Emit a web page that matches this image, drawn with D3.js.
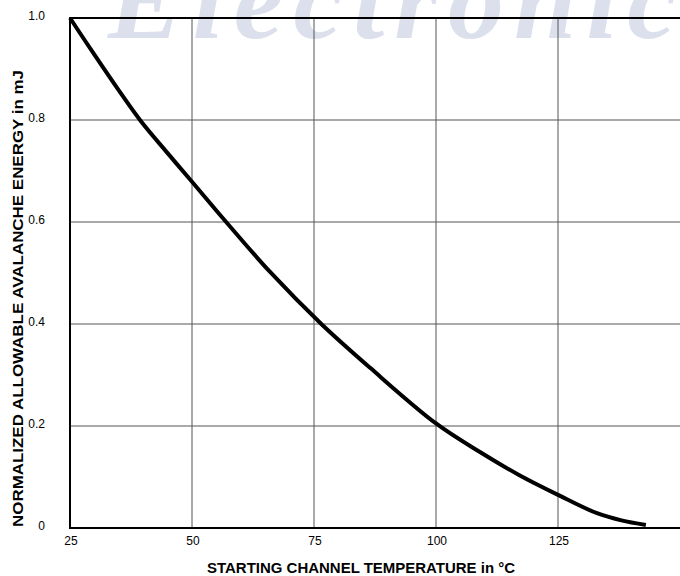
<!DOCTYPE html>
<html><head><meta charset="utf-8">
<script src="https://cdn.jsdelivr.net/npm/d3@7/dist/d3.min.js"></script>
<style>body{margin:0;background:#fff}svg{display:block}</style>
</head><body>
<script>
const temps  = [25, 30, 35, 39.5, 45, 50, 57, 66, 76.5, 86.5, 100, 109, 117, 125, 133, 138, 143];
const energy = [1.0, 0.928, 0.858, 0.798, 0.735, 0.679, 0.60, 0.502, 0.40, 0.314, 0.205, 0.149, 0.104, 0.065, 0.029, 0.015, 0.006];
const xTicks = [25, 50, 75, 100, 125, 150];
const xTickLabels = ["25", "50", "75", "100", "125", ""];
const yTicks = [0, 0.2, 0.4, 0.6, 0.8, 1.0];
const yTickLabels = ["0", "0.2", "0.4", "0.6", "0.8", "1.0"];

const W = 680, H = 576;
const svg = d3.select("body").append("svg").attr("width", W).attr("height", H);

// watermark
svg.append("text").attr("x", 108).attr("y", 38)
  .attr("font-family", "Liberation Serif").attr("font-style", "italic").attr("font-weight", "bold")
  .attr("font-size", 112).attr("fill", "#dce0ec").attr("letter-spacing", 10)
  .text("Electronic");

const x = d3.scaleLinear().domain([25, 150]).range([70, 680]);
const y = d3.scaleLinear().domain([0, 1]).range([528, 18]);

// grid
svg.append("g").selectAll("line").data(xTicks.slice(1, 5)).join("line")
  .attr("x1", d => x(d)).attr("x2", d => x(d)).attr("y1", y(1)).attr("y2", y(0))
  .attr("stroke", "#555").attr("stroke-width", 1);
svg.append("g").selectAll("line").data(yTicks.slice(1, 5)).join("line")
  .attr("x1", x(25)).attr("x2", x(150)).attr("y1", d => y(d)).attr("y2", d => y(d))
  .attr("stroke", "#555").attr("stroke-width", 1);

// frame
svg.append("line").attr("x1", x(25)).attr("x2", x(150)).attr("y1", y(1)).attr("y2", y(1)).attr("stroke", "#000").attr("stroke-width", 2);
svg.append("line").attr("x1", x(25)).attr("x2", x(150)).attr("y1", y(0)).attr("y2", y(0)).attr("stroke", "#000").attr("stroke-width", 2);
svg.append("line").attr("x1", x(25)).attr("x2", x(25)).attr("y1", y(1) - 1).attr("y2", y(0) + 1).attr("stroke", "#000").attr("stroke-width", 2);

// tick labels
svg.append("g").selectAll("text").data(xTicks).join("text")
  .attr("x", d => x(d) + 1).attr("y", 545).attr("text-anchor", "middle")
  .attr("font-family", "Liberation Sans, Arial").attr("font-size", 12).attr("fill", "#000")
  .text((d, i) => xTickLabels[i]);
svg.append("g").selectAll("text").data(yTicks).join("text")
  .attr("x", 45).attr("y", d => y(d) + 2).attr("text-anchor", "end")
  .attr("font-family", "Liberation Sans, Arial").attr("font-size", 12).attr("fill", "#000")
  .text((d, i) => yTickLabels[i]);

// axis titles
svg.append("text").attr("x", 207).attr("y", 573)
  .attr("font-family", "Liberation Sans, Arial").attr("font-weight", "bold").attr("font-size", 14)
  .attr("textLength", 308).attr("lengthAdjust", "spacingAndGlyphs")
  .text("STARTING CHANNEL TEMPERATURE in °C");
svg.append("text").attr("transform", "translate(23,527) rotate(-90)")
  .attr("font-family", "Liberation Sans, Arial").attr("font-weight", "bold").attr("font-size", 14)
  .attr("textLength", 457).attr("lengthAdjust", "spacingAndGlyphs")
  .text("NORMALIZED ALLOWABLE AVALANCHE ENERGY in mJ");

// curve
const line = d3.line().x((d, i) => x(temps[i])).y(d => y(d)).curve(d3.curveCatmullRom.alpha(0.5));
svg.append("path").datum(energy).attr("d", line).attr("fill", "none")
  .attr("stroke", "#000").attr("stroke-width", 4).attr("stroke-linecap", "butt");
</script>
</body></html>
